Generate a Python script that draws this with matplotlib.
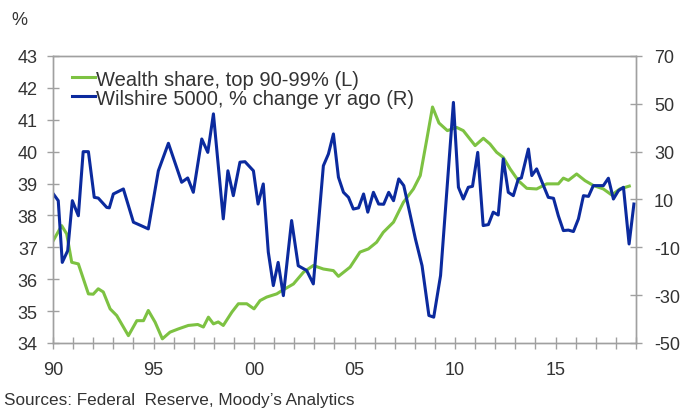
import matplotlib
matplotlib.use('Agg')
import matplotlib.pyplot as plt
import numpy as np

plt.rcParams['font.family'] = ['Liberation Sans', 'DejaVu Sans']
plt.rcParams['axes.unicode_minus'] = False

# wealth share, top 90-99% (left axis)
wealth_x = [1990.0, 1990.43, 1990.68, 1990.93, 1991.26, 1991.76, 1992.0, 1992.25, 1992.5, 1992.84,
            1993.17, 1993.75, 1994.17, 1994.5, 1994.74, 1995.08, 1995.44, 1995.82, 1996.23, 1996.73,
            1997.2, 1997.48, 1997.73, 1997.98, 1998.22, 1998.47, 1998.9, 1999.22, 1999.64, 2000.0,
            2000.3, 2000.63, 2001.13, 2001.38, 2001.96, 2002.46, 2002.95, 2003.45, 2003.95, 2004.2,
            2004.78, 2005.27, 2005.69, 2006.1, 2006.43, 2006.94, 2007.43, 2007.93, 2008.27, 2008.6,
            2008.88, 2009.2, 2009.62, 2010.08, 2010.41, 2011.0, 2011.41, 2011.74, 2012.07, 2012.4,
            2012.74, 2013.15, 2013.57, 2014.06, 2014.56, 2015.14, 2015.39, 2015.64, 2016.05, 2016.47,
            2016.88, 2017.38, 2017.8, 2018.2, 2018.67]
wealth_y = [37.2, 37.68, 37.42, 36.53, 36.48, 35.54, 35.53, 35.7, 35.6, 35.07,
            34.86, 34.23, 34.7, 34.7, 35.02, 34.65, 34.13, 34.34, 34.44, 34.55,
            34.58, 34.5, 34.81, 34.6, 34.66, 34.55, 34.97, 35.23, 35.23, 35.07,
            35.33, 35.44, 35.54, 35.64, 35.85, 36.22, 36.43, 36.32, 36.27, 36.09,
            36.38, 36.85, 36.95, 37.16, 37.47, 37.79, 38.41, 38.83, 39.25, 40.4,
            41.4, 40.9, 40.66, 40.76, 40.66, 40.19, 40.42, 40.24, 39.98, 39.82,
            39.46, 39.09, 38.85, 38.83, 38.99, 38.99, 39.17, 39.1, 39.3, 39.09,
            38.94, 38.83, 38.64, 38.83, 38.92]

# wilshire 5000, % change yr ago (right axis)
wil_x = [1990.0, 1990.26, 1990.46, 1990.73, 1990.96, 1991.26, 1991.5, 1991.76, 1992.05, 1992.25,
         1992.67, 1992.8, 1993.0, 1993.5, 1994.0, 1994.4, 1994.74, 1995.24, 1995.74, 1996.4,
         1996.7, 1996.98, 1997.4, 1997.7, 1997.98, 1998.47, 1998.7, 1998.97, 1999.3, 1999.55,
         1999.97, 2000.2, 2000.46, 2000.71, 2000.96, 2001.2, 2001.46, 2001.87, 2002.2, 2002.62,
         2002.95, 2003.45, 2003.7, 2003.95, 2004.2, 2004.45, 2004.7, 2004.94, 2005.2, 2005.45,
         2005.66, 2005.94, 2006.2, 2006.45, 2006.7, 2006.94, 2007.2, 2007.45, 2007.78, 2008.03,
         2008.36, 2008.7, 2008.94, 2009.28, 2009.92, 2010.17, 2010.41, 2010.66, 2010.87, 2011.13,
         2011.4, 2011.66, 2011.9, 2012.15, 2012.4, 2012.65, 2012.9, 2013.15, 2013.3, 2013.65,
         2013.82, 2014.06, 2014.4, 2014.64, 2014.9, 2015.14, 2015.39, 2015.64, 2015.89, 2016.14,
         2016.39, 2016.64, 2016.88, 2017.13, 2017.38, 2017.63, 2017.88, 2018.13, 2018.38, 2018.66,
         2018.9]
wil_y = [12.5, 9.5, -16.3, -11.4, 9.5, 3.2, 30, 30, 10.9, 10.6,
         6.7, 6.5, 12.3, 14.4, 0.5, -1, -2.3, 22, 33.5, 17.2,
         19, 13, 35.3, 29.7, 45.8, 1.9, 22, 11.6, 25.6, 25.8,
         22, 8.1, 16.5, -12, -26, -16.3, -30.2, 1.2, -17.7, -19.7,
         -25.3, 24.1, 29, 37.4, 19.3, 13, 10.9, 6, 6.5, 12.3,
         4.7, 13, 8.1, 8, 13, 9.5, 18.6, 15.8, 3.2, -6.5,
         -17.7, -38.5, -39.2, -21.8, 50.6, 15.1, 10.2, 15.1, 15.5, 29.7,
         -0.9, -0.5, 4.7, 3.5, 27, 13, 11.6, 18.6, 19, 31.1,
         20, 22.8, 15.8, 10.9, 10.5, 3.2, -3, -2.8, -3.4, 1.9,
         11.6, 11.3, 15.8, 15.8, 15.8, 18.9, 10.2, 13.7, 15.1, -8.6,
         8.1]

x_major = [1990, 1995, 2000, 2005, 2010, 2015]
x_labels = ['90', '95', '00', '05', '10', '15']

green = '#7dc242'
blue = '#0b2a9e'
gray = '#a0a0a0'
txt = '#333333'

fig = plt.figure(figsize=(6.86, 4.10), dpi=100)
ax = fig.add_axes([0.0773, 0.161, 0.8497, 0.700])
ax2 = ax.twinx()

l1, = ax.plot(wealth_x, wealth_y, color=green, lw=2.2, label='Wealth share, top 90-99% (L)')
l2, = ax2.plot(wil_x, wil_y, color=blue, lw=2.2, label='Wilshire 5000, % change yr ago (R)')

ax.set_xlim(1990, 2019)
ax.set_ylim(34, 43)
ax2.set_ylim(-50, 70)
ax.set_yticks(np.arange(34, 44, 1))
ax2.set_yticks(np.arange(-50, 71, 20))
ax.set_xticks(x_major)
ax.set_xticklabels(x_labels)
ax.set_xticks(np.arange(1990, 2020, 1), minor=True)

for a in (ax, ax2):
    for s in a.spines.values():
        s.set_color(gray)
        s.set_linewidth(1.0)
ax.tick_params(axis='y', direction='inout', length=8, width=1, color=gray, labelsize=13, labelcolor=txt, pad=7)
ax2.tick_params(axis='y', direction='inout', length=8, width=1, color=gray, labelsize=13, labelcolor=txt, pad=9)
ax.tick_params(axis='x', which='both', direction='inout', length=8, width=1, color=gray, labelsize=13, labelcolor=txt, pad=9)

leg = ax2.legend(handles=[l1, l2], loc='upper left', bbox_to_anchor=(0.012, 0.995), frameon=False,
                 fontsize=14.5, handlelength=1.15, handletextpad=0.05, labelspacing=0.0, borderaxespad=0.2)
for t in leg.get_texts():
    t.set_color(txt)

fig.text(0.017, 0.94, '%', fontsize=13, color=txt)
fig.text(0.006, 0.012, 'Sources: Federal  Reserve, Moody\u2019s Analytics', fontsize=12.3, color=txt)

fig.savefig('out.png', dpi=100)
